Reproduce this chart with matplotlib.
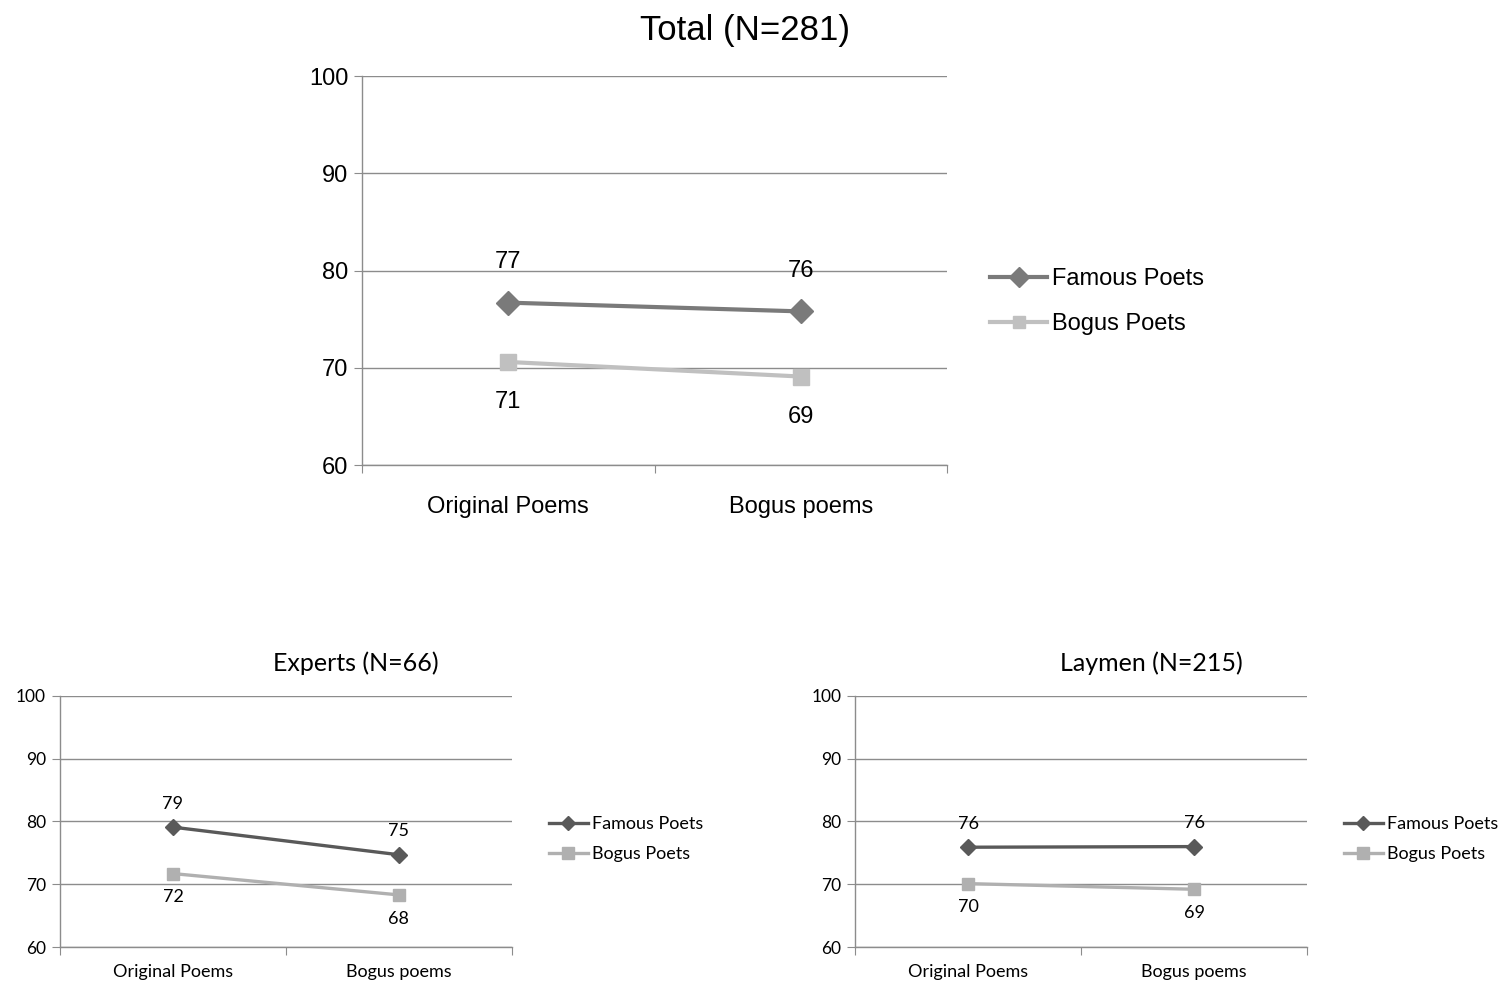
import matplotlib.pyplot as plt

# mean ratings by poem type, per group of readers
categories = ["Original Poems", "Bogus poems"]
series_names = ["Famous Poets", "Bogus Poets"]

total_famous = [76.7, 75.8]
total_bogus = [70.6, 69.1]

experts_famous = [79.1, 74.7]
experts_bogus = [71.7, 68.3]

laymen_famous = [75.9, 76.0]
laymen_bogus = [70.1, 69.2]

y_ticks = [60, 70, 80, 90, 100]


def draw_panel(ax, title, famous, bogus, style):
    """One Excel-style line panel with value labels and a side legend."""
    x = list(range(len(categories)))
    ax.plot(x, famous, color=style["famous_color"], lw=style["lw"],
            marker="D", ms=style["ms_d"], label=series_names[0], zorder=3)
    ax.plot(x, bogus, color=style["bogus_color"], lw=style["lw"],
            marker="s", ms=style["ms_s"], label=series_names[1], zorder=3)

    for xi, v in zip(x, famous):
        ax.annotate(f"{v:.0f}", (xi, v), xytext=(0, style["off"]),
                    textcoords="offset points", ha="center", va="center",
                    fontsize=style["fs_val"], family=style["font"])
    for xi, v in zip(x, bogus):
        ax.annotate(f"{v:.0f}", (xi, v), xytext=(0, -style["off"]),
                    textcoords="offset points", ha="center", va="center",
                    fontsize=style["fs_val"], family=style["font"])

    ax.set_xlim(-0.5, len(categories) - 0.5)
    ax.set_ylim(60, 100)
    ax.set_yticks(y_ticks)
    ax.set_yticklabels([str(t) for t in y_ticks], fontsize=style["fs_tick"],
                       family=style["font"])
    ax.yaxis.grid(True, color="#8c8c8c", lw=1)
    ax.set_axisbelow(True)

    # category labels centred, tick marks on category boundaries
    ax.set_xticks([i - 0.5 for i in range(len(categories) + 1)])
    ax.set_xticklabels([])
    ax.set_xticks(x, minor=True)
    ax.set_xticklabels(categories, minor=True, fontsize=style["fs_cat"],
                       family=style["font"])
    ax.tick_params(axis="x", which="major", length=6, color="#8c8c8c",
                   direction="out")
    ax.tick_params(axis="x", which="minor", length=0, pad=style["cat_pad"])
    ax.tick_params(axis="y", length=6, color="#8c8c8c", pad=4)

    for side in ["top", "right"]:
        ax.spines[side].set_visible(False)
    for side in ["left", "bottom"]:
        ax.spines[side].set_color("#8c8c8c")
        ax.spines[side].set_linewidth(1)

    # title sits over the plot plus legend area
    ax.set_title(title, fontsize=style["fs_title"], family=style["font"],
                 pad=style["title_pad"], x=0.655)
    ax.legend(loc="center left", bbox_to_anchor=style["leg_anchor"],
              frameon=False, prop={"family": style["font"],
                                   "size": style["fs_leg"]},
              handlelength=style["handlelen"], handletextpad=0.2,
              labelspacing=style["labelspacing"], borderaxespad=0,
              markerscale=style["markerscale"])


fig = plt.figure(figsize=(15.03, 9.84), dpi=100)

top_style = dict(famous_color="#7a7a7a", bogus_color="#c0c0c0", lw=3,
                 ms_d=12, ms_s=11, off=29, fs_val=17, fs_tick=17, fs_cat=17,
                 fs_title=25, fs_leg=17, font="Liberation Sans",
                 cat_pad=22, title_pad=26, leg_anchor=(1.058, 0.42),
                 handlelen=2.4, labelspacing=0.95, markerscale=0.85)
small_style = dict(famous_color="#595959", bogus_color="#b0b0b0", lw=2.4,
                   ms_d=8, ms_s=9, off=17, fs_val=13, fs_tick=12.5, fs_cat=13,
                   fs_title=18, fs_leg=13, font="Lato",
                   cat_pad=12, title_pad=18, leg_anchor=(1.065, 0.43),
                   handlelen=2.2, labelspacing=0.75, markerscale=0.9)

ax_total = fig.add_axes([0.2409, 0.5274, 0.3892, 0.3953])
draw_panel(ax_total, "Total (N=281)", total_famous, total_bogus, top_style)

ax_exp = fig.add_axes([0.0399, 0.0376, 0.3007, 0.2551])
draw_panel(ax_exp, "Experts (N=66)", experts_famous, experts_bogus,
           small_style)

ax_lay = fig.add_axes([0.5689, 0.0376, 0.3007, 0.2551])
draw_panel(ax_lay, "Laymen (N=215)", laymen_famous, laymen_bogus,
           small_style)

fig.savefig("out.png", dpi=100)
